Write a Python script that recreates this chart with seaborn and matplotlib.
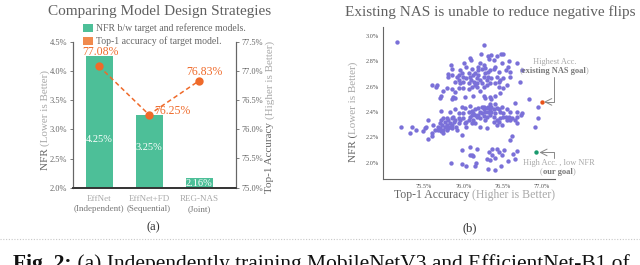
import matplotlib
matplotlib.use("Agg")
import matplotlib.pyplot as plt
import matplotlib.transforms as mtransforms
from matplotlib.lines import Line2D
from matplotlib.patches import Patch
from matplotlib.text import Annotation
import seaborn as sns

# ---------------- data ----------------
strategy_names = ["EffNet", "EffNet+FD", "REG-NAS"]
strategy_kinds = ["(Independent)", "(Sequential)", "(Joint)"]
nfr_values = [4.25, 3.25, 2.16]
acc_values = [77.08, 76.25, 76.83]
nfr_labels = ["4.25%", "3.25%", "2.16%"]
acc_labels = ["77.08%", "76.25%", "76.83%"]

nas_acc = [
    75.15, 76.27, 76.22, 76.31, 76.36, 76.43, 76.48, 76.51, 76.33, 76.39,
    76.08, 76.10, 76.01, 76.04, 76.21, 76.26, 76.28, 76.24, 76.19, 76.15,
    76.11, 76.13, 75.84, 75.85, 75.80, 75.86, 75.92, 75.94, 75.98, 76.00,
    76.04, 76.07, 76.10, 76.14, 76.17, 76.21, 76.26, 76.28, 76.31, 76.34,
    76.39, 76.45, 76.43, 76.47, 76.51, 76.58, 76.57, 76.59, 76.60, 76.69,
    76.75, 76.72, 76.56, 76.51, 76.45, 76.41, 76.34, 76.30, 76.26, 76.21,
    76.17, 76.11, 76.07, 76.00, 75.94, 75.89, 75.85, 75.79, 75.74, 75.72,
    75.70, 75.67, 75.60, 75.65, 75.87, 75.85, 75.89, 76.02, 76.12, 76.26,
    76.28, 76.34, 76.36, 76.41, 76.47, 76.66, 76.84, 76.19, 76.32, 76.24,
    76.17, 76.36, 75.96, 75.89, 75.96, 76.07, 76.09, 75.94, 76.41, 76.54,
    76.49, 76.19, 76.30, 76.00, 75.81, 76.45, 76.15,
    75.72, 75.83, 75.89, 75.94, 75.98, 76.02, 76.08, 76.11, 76.15, 76.19,
    76.24, 76.26, 76.30, 76.34, 76.36, 76.39, 76.43, 76.49, 76.47, 76.51,
    76.56, 76.59, 76.69, 76.73, 76.75, 75.55, 75.62, 75.64, 75.68, 75.70,
    75.72, 75.74, 75.77, 75.79, 75.81, 75.83, 75.85, 75.87, 75.88, 75.91,
    75.92, 75.94, 75.96, 76.00, 76.02, 76.04, 76.07, 76.09, 76.11, 76.13,
    76.15, 76.17, 76.19, 76.21, 76.24, 76.26, 76.28, 76.30, 76.32, 76.34,
    76.39, 76.41, 76.43, 76.45, 76.47, 76.49, 76.54, 76.58, 76.60, 76.62,
    76.66, 76.69, 76.68, 76.59, 76.62, 75.21, 75.32, 75.35, 75.40, 75.49,
    75.51, 75.53, 75.60, 75.55, 75.60, 75.70, 75.72, 75.74, 75.79, 75.83,
    75.68, 75.98, 76.21, 76.30, 75.74, 75.77, 75.81, 75.85, 75.89, 75.86,
    75.73, 75.79, 75.94, 76.00, 76.07, 76.13, 76.21, 76.28, 76.34, 76.41,
    76.45, 76.51, 76.56, 76.04, 76.11, 76.39, 76.43, 76.26, 76.32, 76.36,
    76.15, 76.95, 76.95, 76.92,
    75.98, 76.08, 76.09, 76.18, 76.16, 76.15, 75.84, 75.98, 76.03, 76.31,
    76.40, 76.48, 76.37, 76.43, 76.37, 76.50, 76.57, 76.63, 76.69, 76.66,
    76.11, 76.13, 76.30, 76.34, 76.40, 76.45, 76.52, 76.33,
]
nas_nfr = [
    2.95, 2.93, 2.86, 2.84, 2.85, 2.84, 2.86, 2.86, 2.82, 2.81,
    2.83, 2.81, 2.79, 2.76, 2.79, 2.77, 2.75, 2.74, 2.73, 2.71,
    2.74, 2.69, 2.77, 2.74, 2.70, 2.69, 2.68, 2.65, 2.71, 2.68,
    2.67, 2.63, 2.65, 2.64, 2.67, 2.65, 2.68, 2.71, 2.72, 2.73,
    2.74, 2.72, 2.68, 2.65, 2.67, 2.80, 2.76, 2.72, 2.68, 2.79,
    2.73, 2.64, 2.61, 2.59, 2.60, 2.63, 2.63, 2.61, 2.60, 2.57,
    2.60, 2.60, 2.58, 2.59, 2.59, 2.56, 2.58, 2.59, 2.57, 2.53,
    2.51, 2.61, 2.61, 2.60, 2.52, 2.50, 2.51, 2.52, 2.53, 2.53,
    2.51, 2.52, 2.50, 2.53, 2.55, 2.47, 2.50, 2.76, 2.68, 2.63,
    2.63, 2.67, 2.63, 2.64, 2.73, 2.71, 2.68, 2.69, 2.76, 2.73,
    2.79, 2.69, 2.65, 2.64, 2.68, 2.64, 2.61,
    2.41, 2.40, 2.42, 2.39, 2.44, 2.43, 2.45, 2.41, 2.42, 2.43,
    2.44, 2.42, 2.43, 2.46, 2.44, 2.42, 2.43, 2.44, 2.40, 2.39,
    2.42, 2.40, 2.40, 2.38, 2.39, 2.34, 2.30, 2.26, 2.28, 2.31,
    2.34, 2.35, 2.32, 2.30, 2.34, 2.31, 2.35, 2.36, 2.32, 2.28,
    2.26, 2.31, 2.34, 2.35, 2.31, 2.32, 2.34, 2.36, 2.38, 2.34,
    2.31, 2.36, 2.38, 2.35, 2.39, 2.37, 2.34, 2.36, 2.40, 2.38,
    2.36, 2.39, 2.34, 2.32, 2.35, 2.30, 2.36, 2.36, 2.34, 2.35,
    2.34, 2.31, 2.36, 2.18, 2.21, 2.28, 2.23, 2.28, 2.26, 2.25,
    2.27, 2.28, 2.23, 2.19, 2.21, 2.27, 2.25, 2.23, 2.26, 2.28,
    2.26, 2.22, 2.28, 2.27, 2.26, 2.28, 2.27, 2.30, 2.34, 2.27,
    2.30, 2.35, 2.35, 2.39, 2.40, 2.39, 2.40, 2.40, 2.42, 2.46,
    2.42, 2.36, 2.34, 2.28, 2.31, 2.32, 2.30, 2.44, 2.44, 2.40,
    2.38, 2.44, 2.35, 2.28,
    2.10, 2.12, 2.06, 2.11, 2.00, 1.97, 2.00, 1.99, 1.97, 1.95,
    1.94, 1.97, 2.11, 2.11, 2.06, 2.06, 2.01, 2.07, 2.09, 2.03,
    2.06, 2.05, 2.03, 2.02, 2.04, 2.08, 2.10, 2.08,
]
existing_goal_acc = [77.00]
existing_goal_nfr = [2.48]
our_goal_acc = [76.93]
our_goal_nfr = [2.08]

# ---------------- style ----------------
GREEN = "#4dbf98"
ORANGE = "#ef6a2a"
ORANGE_LEG = "#f08a4e"
PURPLE = "#7a70d8"
DARK = "#666666"
LIGHT = "#a8a8a8"
TICK = "#666666"

sns.set_theme(style="white")
plt.rcParams["font.family"] = ["Liberation Serif", "DejaVu Serif"]

W, H = 640, 265
fig = plt.figure(figsize=(W / 100, H / 100), dpi=100)


def rect(x0, y0, x1, y1):
    return [x0 / W, 1 - y1 / H, (x1 - x0) / W, (y1 - y0) / H]


def fxy(px, py):
    return px / W, 1 - py / H


def chain_h(x, y, parts, fontsize, **kw):
    """Horizontal multi-colour text, parts=(text,color,weight)."""
    t0, c0, w0 = parts[0]
    prev = fig.text(x, y, t0, color=c0, fontweight=w0, fontsize=fontsize,
                    ha="left", va="bottom", **kw)
    for t, c, w in parts[1:]:
        a = Annotation(t, xy=(1, 0), xycoords=prev, color=c, fontweight=w,
                       fontsize=fontsize, ha="left", va="bottom",
                       annotation_clip=False, **kw)
        fig.add_artist(a)
        prev = a
    return prev


def chain_v(x, y, parts, fontsize):
    """Vertical (rotated 90) multi-colour text, starting at bottom."""
    t0, c0, w0 = parts[0]
    prev = fig.text(x, y, t0, color=c0, fontweight=w0, fontsize=fontsize,
                    ha="center", va="bottom", rotation=90)
    for t, c, w in parts[1:]:
        a = Annotation(t, xy=(0.5, 1), xycoords=prev, color=c, fontweight=w,
                       fontsize=fontsize, ha="center", va="bottom",
                       rotation=90, annotation_clip=False)
        fig.add_artist(a)
        prev = a
    return prev


# ================= panel (a) =================
ax1 = fig.add_axes(rect(73, 41.7, 236, 187.7))
sns.barplot(x=strategy_names, y=nfr_values, ax=ax1, color=GREEN,
            width=0.54, saturation=1, linewidth=0)
ax1.set_ylim(2.0, 4.5)
ax1.set_xlim(-0.52, 2.74)
ax1.set_yticks([2.0, 2.5, 3.0, 3.5, 4.0, 4.5])
ax1.set_yticklabels([f"{v:.1f}%" for v in [2.0, 2.5, 3.0, 3.5, 4.0, 4.5]])
ax1.set_xticks([0, 1, 2])
ax1.set_xticklabels([])
ax1.set_xlabel("")
ax1.set_ylabel("")

bar_label_y = [2.82, 2.69, 2.075]
for i, lab in enumerate(nfr_labels):
    ax1.text(i, bar_label_y[i], lab, color="white", fontsize=7.5,
             ha="center", va="center")

ax2 = ax1.twinx()
sns.lineplot(x=[0, 1, 2], y=acc_values, ax=ax2, color=ORANGE,
             linestyle=(0, (3, 2)), linewidth=1.1, marker="o",
             markersize=6, markeredgewidth=0)
ax2.set_ylim(75.0, 77.5)
ax2.set_xlim(-0.52, 2.74)
ax2.set_yticks([75.0, 75.5, 76.0, 76.5, 77.0, 77.5])
ax2.set_yticklabels([f"{v:.1f}%" for v in [75.0, 75.5, 76.0, 76.5, 77.0, 77.5]])
ax2.set_ylabel("")

acc_label_pos = [(0.02, 77.33), (1.46, 76.31), (2.1, 76.98)]
for (lx, ly), lab in zip(acc_label_pos, acc_labels):
    ax2.text(lx, ly, lab, color=ORANGE, fontsize=8.5, ha="center", va="center")

for ax in (ax1, ax2):
    ax.spines["top"].set_visible(False)
    for s in ("left", "right"):
        ax.spines[s].set_color("#666666")
        ax.spines[s].set_linewidth(0.8)
    ax.spines["bottom"].set_color("#333333")
    ax.spines["bottom"].set_linewidth(1.2)
    ax.tick_params(axis="y", labelsize=6, colors=TICK, length=2.5,
                   width=0.6, pad=1.5)
    ax.tick_params(axis="x", length=0)
ax2.tick_params(axis="y", which="both", right=True, left=False)
ax1.tick_params(axis="y", which="both", left=True)

blend = mtransforms.blended_transform_factory(ax1.transData, ax1.transAxes)
for i in range(3):
    ax1.text(i, -0.077, strategy_names[i], transform=blend, fontsize=6.5,
             color=LIGHT, ha="center", va="center")
    ax1.text(i, -0.146, strategy_kinds[i], transform=blend, fontsize=6.5,
             color="#777777", ha="center", va="center")

# legend
handles = [Patch(facecolor=GREEN, edgecolor="none"),
           Patch(facecolor=ORANGE_LEG, edgecolor="none")]
fig.legend(handles, ["NFR b/w target and reference models.",
                     "Top-1 accuracy of target model."],
           loc="upper left", bbox_to_anchor=fxy(83, 23.5), frameon=False,
           fontsize=7, handlelength=1.0, handleheight=0.9, handletextpad=0.3,
           labelspacing=0.35, borderaxespad=0, borderpad=0,
           labelcolor="#666666")

fig.text(*fxy(160, 12), "Comparing Model Design Strategies", fontsize=11,
         color="#606060", ha="center", va="center")

# y labels panel (a)
x0, y0 = fxy(45, 170)
chain_v(x0, y0, [("NFR ", DARK, "normal"),
                 ("(Lower is Better)", LIGHT, "normal")], 8)
x0, y0 = fxy(270, 193)
chain_v(x0, y0, [("Top-1 Accuracy ", DARK, "normal"),
                 ("(Higher is Better)", LIGHT, "normal")], 8)

fig.text(*fxy(153, 227), "(a)", fontsize=9, color="#333333",
         ha="center", va="center")

# ================= panel (b) =================
ax3 = fig.add_axes(rect(383.3, 26.7, 555, 179))
sns.scatterplot(x=nas_acc, y=nas_nfr, ax=ax3, color=PURPLE, s=10,
                linewidth=0, alpha=1)
sns.scatterplot(x=existing_goal_acc, y=existing_goal_nfr, ax=ax3,
                color="#e8521a", s=10, linewidth=0)
sns.scatterplot(x=our_goal_acc, y=our_goal_nfr, ax=ax3,
                color="#1a9a6e", s=10, linewidth=0)
ax3.set_xlim(74.98, 77.17)
ax3.set_ylim(1.87, 3.075)
ax3.set_xticks([75.5, 76.0, 76.5, 77.0])
ax3.set_xticklabels([f"{v:.1f}%" for v in [75.5, 76.0, 76.5, 77.0]])
ax3.set_yticks([2.0, 2.2, 2.4, 2.6, 2.8, 3.0])
ax3.set_yticklabels([f"{v:.1f}%" for v in [2.0, 2.2, 2.4, 2.6, 2.8, 3.0]])
for s in ("top", "right"):
    ax3.spines[s].set_visible(False)
for s in ("left", "bottom"):
    ax3.spines[s].set_color("#666666")
    ax3.spines[s].set_linewidth(0.8)
ax3.tick_params(labelsize=4.5, colors="#555555", length=2, width=0.5, pad=1.5)

for ax in (ax1, ax2, ax3):
    ax.patch.set_alpha(0)

ax3.annotate("", xy=(77.03, 2.48), xytext=(77.16, 2.68),
             arrowprops=dict(arrowstyle="->", color="#888888", lw=0.7,
                             shrinkA=0, shrinkB=0,
                             connectionstyle="angle,angleA=90,angleB=0,rad=0"),
             annotation_clip=False)
ax3.annotate("", xy=(76.97, 2.08), xytext=(77.16, 2.04),
             arrowprops=dict(arrowstyle="->", color="#888888", lw=0.7,
                             shrinkA=0, shrinkB=0,
                             connectionstyle="angle,angleA=90,angleB=0,rad=0"),
             annotation_clip=False)

fig.text(*fxy(555, 61.7), "Highest Acc.", fontsize=6, color=LIGHT,
         ha="center", va="center")
x0, y0 = fxy(519.5, 75)
chain_h(x0, y0, [("(", LIGHT, "normal"), ("existing NAS goal", "#777777", "bold"),
                 (")", LIGHT, "normal")], 6)
fig.text(*fxy(559, 163.3), "High Acc. , low NFR", fontsize=6, color=LIGHT,
         ha="center", va="center")
x0, y0 = fxy(540, 176)
chain_h(x0, y0, [("(", LIGHT, "normal"), ("our goal", "#777777", "bold"),
                 (")", LIGHT, "normal")], 6)

fig.text(*fxy(490, 12), "Existing NAS is unable to reduce negative flips",
         fontsize=11, color="#606060", ha="center", va="center")

x0, y0 = fxy(394, 201)
chain_h(x0, y0, [("Top-1 Accuracy ", DARK, "normal"),
                 ("(Higher is Better)", LIGHT, "normal")], 8.5)
x0, y0 = fxy(353, 162)
chain_v(x0, y0, [("NFR (", DARK, "normal"),
                 ("Lower is Better)", LIGHT, "normal")], 8)

fig.text(*fxy(470, 228), "(b)", fontsize=9, color="#333333",
         ha="center", va="center")

# separator and caption
fig.add_artist(Line2D([0, 1], [1 - 238.5 / H] * 2, transform=fig.transFigure,
                      linestyle=(0, (1, 1.5)), color="#c8c8c8", linewidth=0.8))
chain_h(13 / W, -0.035, [("Fig. 2:", "#111111", "bold"),
                         (" (a) Independently training MobileNetV3 and EfficientNet-B1 of",
                          "#111111", "normal")], 15.5)

fig.savefig("out.png", dpi=100)
